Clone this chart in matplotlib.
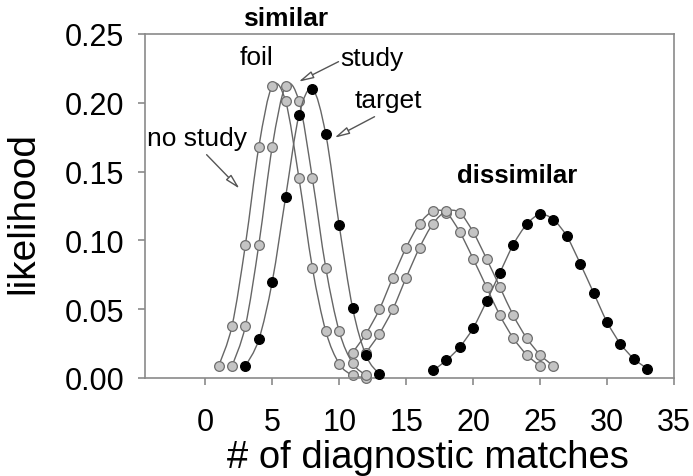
import matplotlib
matplotlib.use("Agg")
import matplotlib.pyplot as plt
from matplotlib.path import Path
from matplotlib.patches import PathPatch

plt.rcParams['font.family'] = ['Liberation Sans', 'DejaVu Sans']

# ---- data ----
sim_nostudy_x = list(range(1, 13))
sim_nostudy_y = [0.0087, 0.038, 0.097, 0.168, 0.212, 0.201, 0.145, 0.080, 0.034, 0.0104, 0.0020, 0.0003]

sim_foil_x = list(range(2, 13))
sim_foil_y = [0.0087, 0.038, 0.097, 0.168, 0.212, 0.201, 0.145, 0.080, 0.034, 0.0108, 0.0019]

sim_target_x = list(range(3, 14))
sim_target_y = [0.0087, 0.028, 0.070, 0.1315, 0.191, 0.210, 0.177, 0.111, 0.051, 0.0164, 0.0026]

dis_a_x = list(range(11, 26))
dis_a_y = [0.0184, 0.0322, 0.0499, 0.0729, 0.0947, 0.1121, 0.1211, 0.1200, 0.1061,
           0.0867, 0.0661, 0.0455, 0.0290, 0.0169, 0.0087]

dis_b_x = list(range(12, 27))
dis_b_y = [0.0184, 0.0322, 0.0499, 0.0729, 0.0947, 0.1121, 0.1211, 0.1200, 0.1061,
           0.0867, 0.0661, 0.0455, 0.0290, 0.0169, 0.0087]

dis_target_x = list(range(17, 34))
dis_target_y = [0.0055, 0.0128, 0.0225, 0.0363, 0.0557, 0.0765, 0.0969, 0.1116, 0.1189,
                0.1150, 0.1029, 0.0831, 0.0618, 0.0407, 0.0249, 0.0140, 0.0068]

x_ticks = [0, 5, 10, 15, 20, 25, 30, 35]
y_ticks = [0.00, 0.05, 0.10, 0.15, 0.20, 0.25]

LINE = '#666666'
GRAY_FACE = '#c4c4c4'
GRAY_EDGE = '#6e6e6e'
AXIS = '#8a8a8a'


def smooth_path(xs, ys):
    """Catmull-Rom style bezier through the points (like a smoothed line)."""
    n = len(xs)
    verts = [(xs[0], ys[0])]
    codes = [Path.MOVETO]
    for i in range(n - 1):
        i0 = i - 1 if i > 0 else i
        i3 = i + 2 if i + 2 < n else i + 1
        c1 = (xs[i] + (xs[i + 1] - xs[i0]) / 6.0, ys[i] + (ys[i + 1] - ys[i0]) / 6.0)
        c2 = (xs[i + 1] - (xs[i3] - xs[i]) / 6.0, ys[i + 1] - (ys[i3] - ys[i]) / 6.0)
        verts += [c1, c2, (xs[i + 1], ys[i + 1])]
        codes += [Path.CURVE4] * 3
    return Path(verts, codes)


fig = plt.figure(figsize=(6.93, 4.77), dpi=100)
ax = fig.add_axes([145 / 693, 1 - 379 / 477, (674 - 145) / 693, (379 - 35) / 477])

series = [
    (sim_nostudy_x, sim_nostudy_y, GRAY_FACE, GRAY_EDGE),
    (sim_foil_x, sim_foil_y, GRAY_FACE, GRAY_EDGE),
    (dis_a_x, dis_a_y, GRAY_FACE, GRAY_EDGE),
    (dis_b_x, dis_b_y, GRAY_FACE, GRAY_EDGE),
    (sim_target_x, sim_target_y, 'black', 'black'),
    (dis_target_x, dis_target_y, 'black', 'black'),
]

z = 2
for xs, ys, fc, ec in series:
    ax.add_patch(PathPatch(smooth_path(xs, ys), fill=False, ec=LINE, lw=1.0, zorder=z))
    ax.plot(xs, ys, linestyle='none', marker='o', ms=7, mfc=fc, mec=ec, mew=0.9,
            zorder=z + 0.5, clip_on=False)
    z += 1

ax.set_xlim(-4.5, 35)
ax.set_ylim(0, 0.25)
ax.set_xticks(x_ticks)
ax.set_yticks(y_ticks)
ax.set_yticklabels([f"{v:.2f}" for v in y_ticks])

for s in ax.spines.values():
    s.set_color(AXIS)
    s.set_linewidth(1.2)
ax.tick_params(axis='both', colors=AXIS, labelcolor='black', direction='out', length=5,
               width=1.2, labelsize=22)
ax.tick_params(axis='x', pad=16)
ax.tick_params(axis='y', pad=10)

fig.text(427.5 / 693, 1 - 468 / 477, '# of diagnostic matches', ha='center', va='baseline',
         fontsize=27.5)
fig.text(33 / 693, 1 - 213 / 477, 'likelihood', rotation=90, rotation_mode='anchor',
         ha='center', va='baseline', fontsize=28)

# annotations
ax.text(6.0, 0.2562, 'similar', ha='center', va='baseline', fontsize=19, fontweight='bold',
        clip_on=False)
ax.text(23.3, 0.1427, 'dissimilar', ha='center', va='baseline', fontsize=18.5, fontweight='bold')
ax.text(3.81, 0.2284, 'foil', ha='center', va='baseline', fontsize=19)
ax.text(12.42, 0.2277, 'study', ha='center', va='baseline', fontsize=19)
ax.text(13.7, 0.1972, 'target', ha='center', va='baseline', fontsize=19)
ax.text(-0.61, 0.1695, 'no study', ha='center', va='baseline', fontsize=19)

arrow_kw = dict(arrowstyle='-|>,head_length=0.9,head_width=0.22', color='#555555',
                lw=1.0, shrinkA=0, shrinkB=0, fc='white')
ax.annotate('', xy=(2.56, 0.1376), xytext=(0.10, 0.1623), arrowprops=arrow_kw)
ax.annotate('', xy=(6.97, 0.2153), xytext=(9.95, 0.2299), arrowprops=arrow_kw)
ax.annotate('', xy=(9.65, 0.1746), xytext=(12.64, 0.1899), arrowprops=arrow_kw)

fig.savefig('out.png', dpi=100)
